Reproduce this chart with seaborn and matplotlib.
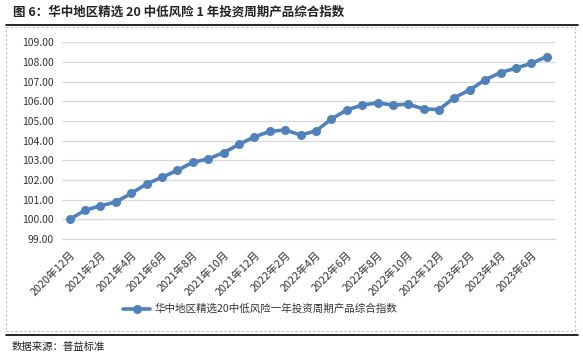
import matplotlib
matplotlib.use("Agg")
import matplotlib.pyplot as plt
import seaborn as sns
import pandas as pd
from matplotlib.patches import Rectangle
from matplotlib.lines import Line2D

months = ["2020年12月", "2021年1月", "2021年2月", "2021年3月", "2021年4月", "2021年5月",
          "2021年6月", "2021年7月", "2021年8月", "2021年9月", "2021年10月", "2021年11月",
          "2021年12月", "2022年1月", "2022年2月", "2022年3月", "2022年4月", "2022年5月",
          "2022年6月", "2022年7月", "2022年8月", "2022年9月", "2022年10月", "2022年11月",
          "2022年12月", "2023年1月", "2023年2月", "2023年3月", "2023年4月", "2023年5月",
          "2023年6月", "2023年7月"]
index_values = [100.00, 100.46, 100.69, 100.88, 101.32, 101.80, 102.14, 102.49,
                102.90, 103.07, 103.39, 103.81, 104.19, 104.47, 104.54, 104.29,
                104.49, 105.10, 105.56, 105.81, 105.92, 105.81, 105.85, 105.61,
                105.58, 106.19, 106.58, 107.10, 107.46, 107.69, 107.93, 108.27]
series_name = "华中地区精选20中低风险一年投资周期产品综合指数"
title_text = "图 6：华中地区精选 20 中低风险 1 年投资周期产品综合指数"
source_text = "数据来源：普益标准"
y_ticks = [99, 100, 101, 102, 103, 104, 105, 106, 107, 108, 109]

sns.set_theme(style="white")
plt.rcParams['font.family'] = ['Noto Sans CJK SC', 'DejaVu Sans']

W, H = 583, 356
fig = plt.figure(figsize=(W / 100, H / 100), dpi=100)

def fx(px):
    return px / W

def fy(py):
    return 1 - py / H

# Title and rules
fig.text(fx(13), fy(12), title_text, fontsize=9, fontweight='bold', color='#222222',
         ha='left', va='center')
fig.add_artist(Line2D([fx(6), fx(578)], [fy(25), fy(25)], color='black', lw=1.2))
fig.add_artist(Rectangle((fx(6), fy(331)), fx(569), fy(27) - fy(331), fill=False,
                         edgecolor='#bfbfbf', lw=0.8, linestyle=(0, (2, 2))))
fig.add_artist(Line2D([fx(6), fx(578)], [fy(335), fy(335)], color='black', lw=1.2))
fig.text(fx(12), fy(347), source_text, fontsize=7.5, color='#222222', ha='left', va='center')

# Axes
left, right, top, bottom = 62, 554.5, 42.3, 239
ax = fig.add_axes([fx(left), fy(bottom), fx(right - left), fy(top) - fy(bottom)])

df = pd.DataFrame({"idx": range(len(months)), "value": index_values})
sns.lineplot(data=df, x="idx", y="value", ax=ax, color='#4F81BD', lw=2.6,
             marker='o', markersize=6.5, markeredgewidth=0, label=series_name)

ax.set_ylim(99, 109)
ax.set_xlim(-0.5, len(months) - 0.5)
ax.set_yticks(y_ticks)
ax.set_yticklabels([f"{v:.2f}" for v in y_ticks], fontsize=7.5, color='#333333')
ax.yaxis.grid(True, color='#d9d9d9', lw=0.9)
ax.xaxis.grid(False)
for s in ['top', 'right', 'left']:
    ax.spines[s].set_visible(False)
ax.spines['bottom'].set_color('#d9d9d9')
ax.spines['bottom'].set_linewidth(0.9)
ax.tick_params(axis='y', length=0, pad=6)

# Minor ticks as category boundaries every 2 categories
ax.set_xticks([i - 0.5 for i in range(0, len(months) + 1, 2)], minor=True)
ax.tick_params(axis='x', which='minor', length=3.5, color='#d9d9d9', width=0.9, direction='out')
ax.set_xticks(list(range(0, len(months), 2)))
ax.set_xticklabels([months[i] for i in range(0, len(months), 2)], rotation=45,
                   ha='right', rotation_mode='anchor', fontsize=7.8, color='#333333')
ax.tick_params(axis='x', which='major', length=0, pad=8)
ax.set_xlabel("")
ax.set_ylabel("")

leg = ax.legend(loc='center', bbox_to_anchor=(fx(260), fy(309)), bbox_transform=fig.transFigure,
                frameon=False, fontsize=7.6, handlelength=2.6, handletextpad=0.4)
for t in leg.get_texts():
    t.set_color('#333333')

fig.savefig("out.png", dpi=100)
